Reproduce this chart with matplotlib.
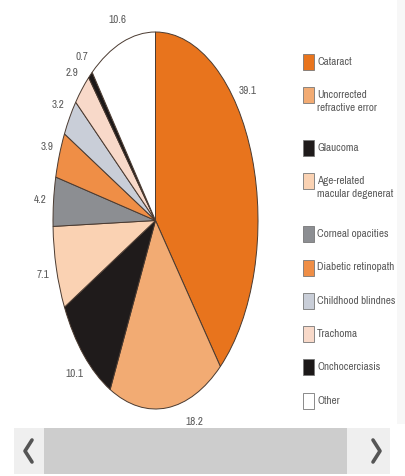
import numpy as np
import matplotlib
matplotlib.use("Agg")
import matplotlib.pyplot as plt
from matplotlib.patches import Rectangle
from matplotlib.lines import Line2D

categories = ["Cataract", "Uncorrected\nrefractive error", "Glaucoma",
              "Age-related\nmacular degenerat", "Corneal opacities",
              "Diabetic retinopath", "Childhood blindnes", "Trachoma",
              "Onchocerciasis", "Other"]
values = [39.1, 18.2, 10.1, 7.1, 4.2, 3.9, 3.2, 2.9, 0.7, 10.6]
value_labels = ["39.1", "18.2", "10.1", "7.1", "4.2", "3.9", "3.2", "2.9", "0.7", "10.6"]

colors = ["#E8741D", "#F2AB73", "#1F1B1B", "#FAD2B3", "#8C8E92",
          "#EF8E46", "#C9CED8", "#F8D9C9", "#1C1818", "#FFFFFF"]
# small angular nudges (degrees) for a couple of value labels, as in the reference
label_shift = [18, 13, 0, 0, 0, 0, 0, 0, 0, 0]

W, H = 405, 477
fig = plt.figure(figsize=(W / 100, H / 100), dpi=100)
fig.patch.set_facecolor("white")

def fx(px):
    return px / W

def fy(py):
    return 1 - py / H

FONT = ["Archivo Narrow", "DejaVu Sans"]
TXT = "#5a5a5a"

# Pie axes (stretched to an ellipse like the reference)
left, right, top, bottom = 53, 258, 33, 410
ax = fig.add_axes([fx(left), fy(bottom), fx(right - left), (bottom - top) / H])
wedges, texts = ax.pie(values, labels=value_labels, colors=colors, startangle=90,
                       counterclock=False, labeldistance=1.13,
                       wedgeprops=dict(edgecolor="#4a3a30", linewidth=0.7),
                       textprops=dict(fontsize=8, color=TXT, family=FONT))
ax.set_aspect("auto")
ax.set_xlim(-1, 1)
ax.set_ylim(-1, 1)
for w, t, s in zip(wedges, texts, label_shift):
    ang = np.deg2rad((w.theta1 + w.theta2) / 2 + s)
    r = 1.13
    t.set_position((r * np.cos(ang), r * np.sin(ang)))
    t.set_ha("center")
    t.set_va("center")

# Faint right-side panel
fig.add_artist(Rectangle((fx(397), fy(425)), fx(8), 425 / H,
                         transform=fig.transFigure, facecolor="#f7f7f7",
                         edgecolor="none", zorder=0))

# Manual legend
y = 63.0
for cat, col in zip(categories, colors):
    fig.add_artist(Rectangle((fx(303), fy(y + 8)), fx(11), 16 / H,
                             transform=fig.transFigure, facecolor=col,
                             edgecolor="#777777", linewidth=0.6))
    fig.text(fx(317), fy(y - 6), cat, fontsize=8, color=TXT, family=FONT,
             ha="left", va="top", linespacing=1.35)
    n = cat.count("\n") + 1
    y += 33.3 + 19.5 * (n - 1)

# Scrollbar
fig.add_artist(Rectangle((fx(14), fy(475)), fx(376), 46 / H,
                         transform=fig.transFigure, facecolor="#efefef",
                         edgecolor="none"))
fig.add_artist(Rectangle((fx(44), fy(475)), fx(303), 46 / H,
                         transform=fig.transFigure, facecolor="#cdcdcd",
                         edgecolor="none"))
fig.add_artist(Line2D([fx(32), fx(25), fx(32)], [fy(441), fy(452), fy(463)],
                      transform=fig.transFigure, color="#555555", linewidth=2.6,
                      solid_capstyle="round", solid_joinstyle="round"))
fig.add_artist(Line2D([fx(373), fx(380), fx(373)], [fy(441), fy(452), fy(463)],
                      transform=fig.transFigure, color="#555555", linewidth=2.6,
                      solid_capstyle="round", solid_joinstyle="round"))

fig.savefig("out.png", dpi=100)
